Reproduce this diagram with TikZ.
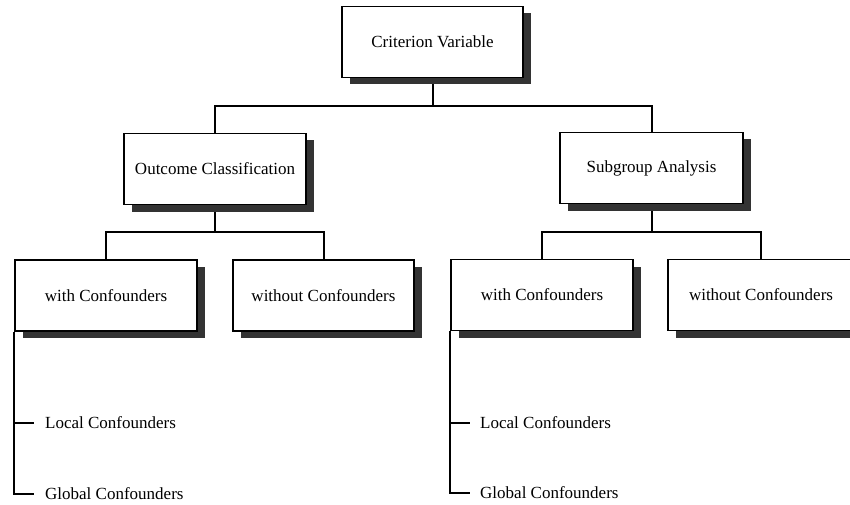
\documentclass[tikz,border=0pt]{standalone}
\usepackage{fontspec}
\setmainfont{Liberation Serif}
\usetikzlibrary{shadows,backgrounds,calc}

\tikzset{
  box/.style={draw=black, line width=1.8pt, fill=white, minimum height=71pt,
    inner sep=0pt, font=\fontsize{17}{20}\selectfont,
    drop shadow={shadow xshift=7.5pt, shadow yshift=-7pt, fill=black!80, opacity=1}},
  link/.style={draw=black, line width=2pt},
  leaf/.style={anchor=west, inner sep=0pt, font=\fontsize{17}{20}\selectfont}
}

\begin{document}
\begin{tikzpicture}[x=1pt, y=-1pt]
\useasboundingbox (0,0) rectangle (850,505);

% boxes of the tree
\node[box, minimum width=181pt] (crit) at (432.5,42) {Criterion Variable};
\node[box, minimum width=182pt] (outc) at (215,169) {Outcome Classification};
\node[box, minimum width=183pt] (subg) at (651.5,168) {Subgroup Analysis};
\node[box, minimum width=182pt] (lw)  at (106,295.5) {with Confounders};
\node[box, minimum width=181pt] (lwo) at (323.5,295.5) {without Confounders};
\node[box, minimum width=182pt] (rw)  at (542,295) {with Confounders};
\node[box, minimum width=186pt] (rwo) at (761,295) {without Confounders};

% leaf labels
\node[leaf] (lloc) at (45,423) {Local Confounders};
\node[leaf] (lglo) at (45,494) {Global Confounders};
\node[leaf] (rloc) at (480,423) {Local Confounders};
\node[leaf] (rglo) at (480,493) {Global Confounders};

% heights of the horizontal bars
\coordinate (bar1) at (0,106);
\coordinate (bar2) at (0,232);

\begin{scope}[on background layer]
  \draw[link] (crit.south) -- (crit.south |- bar1) -| (outc.north);
  \draw[link] (crit.south |- bar1) -| (subg.north);
  \draw[link] (outc.south) -- (outc.south |- bar2) -| (lw.north);
  \draw[link] (outc.south |- bar2) -| (lwo.north);
  \draw[link] (subg.south) -- (subg.south |- bar2) -| (rw.north);
  \draw[link] (subg.south |- bar2) -| (rwo.north);
  % bracket lists below the "with" boxes
  \draw[link] (lw.south west) |- ([xshift=-11pt]lglo.west);
  \draw[link] (lw.south west |- lloc.west) -- ([xshift=-11pt]lloc.west);
  \draw[link] (rw.south west) |- ([xshift=-10pt]rglo.west);
  \draw[link] (rw.south west |- rloc.west) -- ([xshift=-10pt]rloc.west);
\end{scope}
\end{tikzpicture}
\end{document}
